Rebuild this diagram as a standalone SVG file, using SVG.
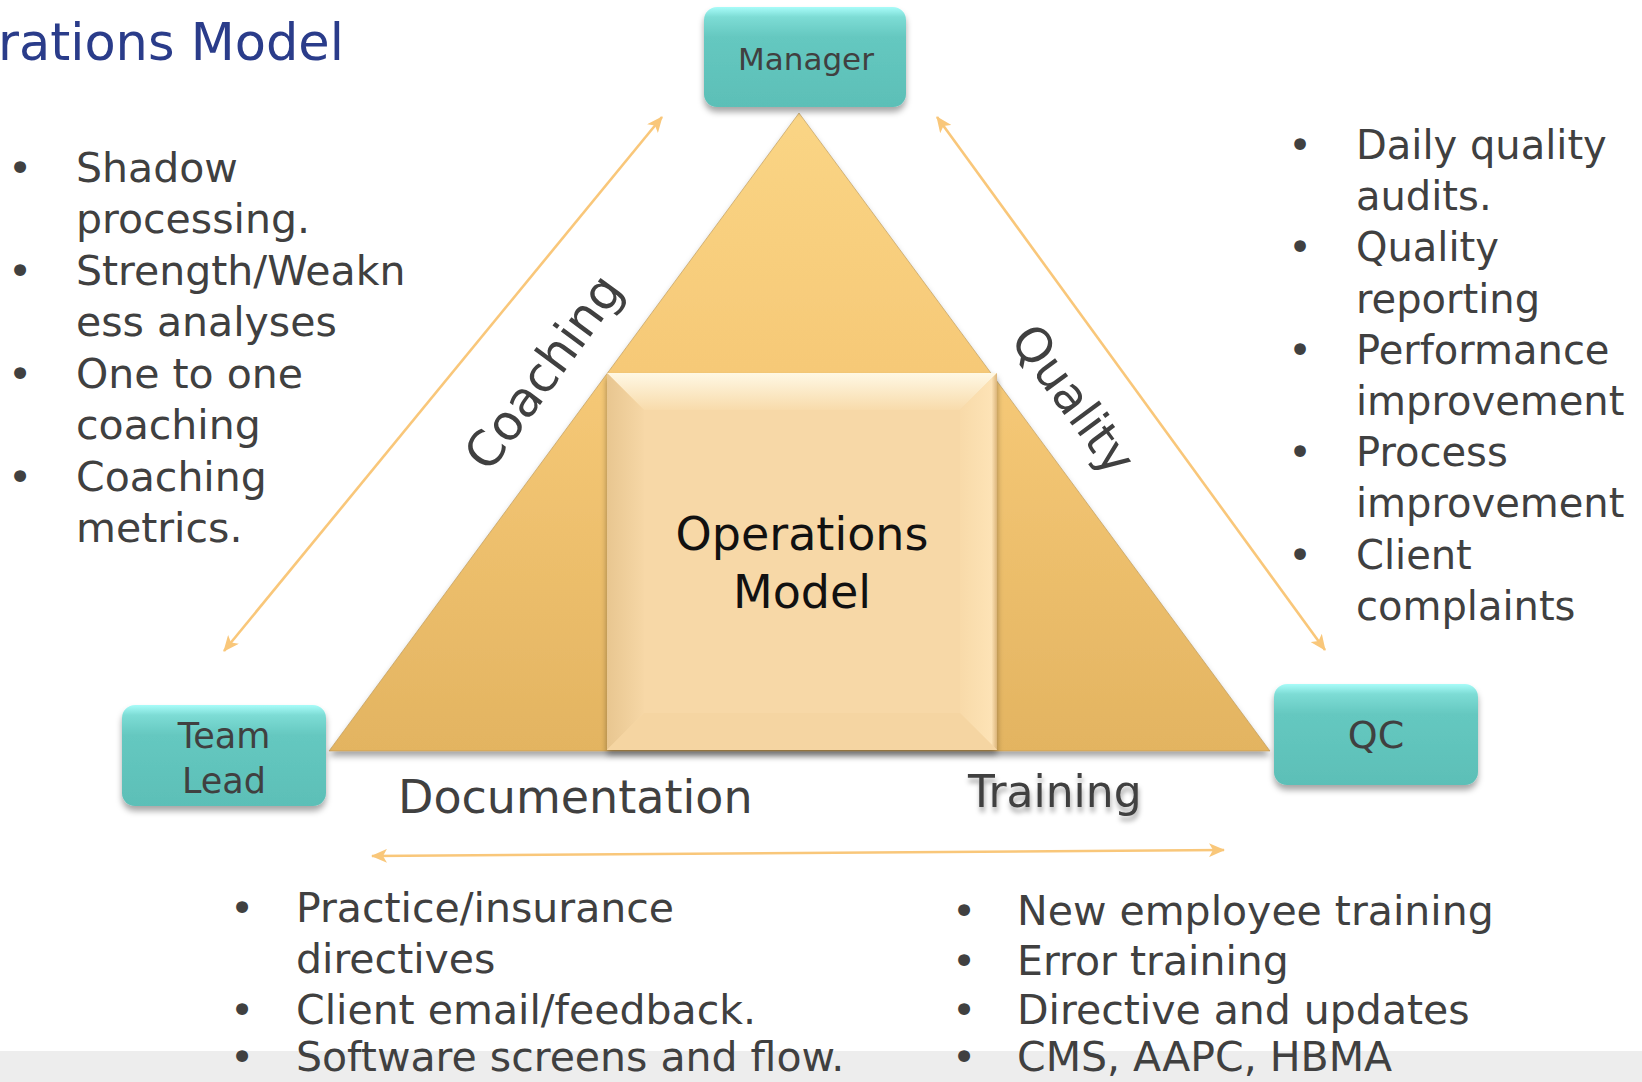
<svg xmlns="http://www.w3.org/2000/svg" width="1642" height="1082" viewBox="0 0 1642 1082">
<style>
.t{font-family:"DejaVu Sans","Liberation Sans",sans-serif;fill:#404040}
.b{font-size:41px}
.conn{stroke:#f9c77a;stroke-width:2.6;fill:none;marker-start:url(#ah);marker-end:url(#ah)}
</style>
<defs>
<marker id="ah" viewBox="0 0 16 14" refX="15" refY="7" markerWidth="16" markerHeight="14" markerUnits="userSpaceOnUse" orient="auto-start-reverse">
<path d="M0,0 L16,7 L0,14 L4,7 z" fill="#f9c77a"/>
</marker>
<linearGradient id="teal" x1="0" y1="0" x2="0" y2="1">
<stop offset="0" stop-color="#a8fcf9"/>
<stop offset="0.1" stop-color="#7ddcd5"/>
<stop offset="0.3" stop-color="#65c8c0"/>
<stop offset="1" stop-color="#5cbfb7"/>
</linearGradient>
<linearGradient id="tri" x1="0" y1="113" x2="0" y2="751" gradientUnits="userSpaceOnUse">
<stop offset="0" stop-color="#fad585"/>
<stop offset="0.4" stop-color="#f6c977"/>
<stop offset="1" stop-color="#e3b461"/>
</linearGradient>
<linearGradient id="sqTop" x1="0" y1="0" x2="0" y2="1">
<stop offset="0" stop-color="#fff8e4"/>
<stop offset="1" stop-color="#f8dbab"/>
</linearGradient>
<linearGradient id="sqLeft" x1="0" y1="0" x2="1" y2="0">
<stop offset="0" stop-color="#e8c690"/>
<stop offset="1" stop-color="#f6d7a6"/>
</linearGradient>
<linearGradient id="sqRight" x1="0" y1="0" x2="1" y2="0">
<stop offset="0" stop-color="#f8daa9"/>
<stop offset="0.85" stop-color="#fde3b6"/>
<stop offset="1" stop-color="#dcb57a"/>
</linearGradient>
<filter id="sh" x="-20%" y="-20%" width="140%" height="150%">
<feDropShadow dx="0" dy="5" stdDeviation="3" flood-color="#000" flood-opacity="0.35"/>
</filter>
<filter id="tsh" x="-10%" y="-20%" width="120%" height="160%">
<feDropShadow dx="1" dy="5" stdDeviation="2.5" flood-color="#000" flood-opacity="0.35"/>
</filter>
</defs>
<rect width="1642" height="1082" fill="#ffffff"/>
<rect x="0" y="1051" width="1642" height="31" fill="#ededed"/>

<text x="-2" y="60" font-family="'DejaVu Sans','Liberation Sans',sans-serif" font-size="51" fill="#2a3c8a">rations Model</text>

<g id="pyramid">
<polygon points="799,113 1270,751 329,751" fill="url(#tri)" stroke="#b89555" stroke-opacity="0.6" stroke-width="1" filter="url(#sh)"/>
</g>

<g id="operations-model">
<g filter="url(#sh)">
<rect x="607" y="373" width="390" height="377" fill="#f7d8a7"/>
</g>
<polygon points="607,373 997,373 960,410 644,410" fill="url(#sqTop)"/>
<polygon points="607,373 644,410 644,713 607,750" fill="url(#sqLeft)"/>
<polygon points="997,373 997,750 960,713 960,410" fill="url(#sqRight)"/>
<polygon points="607,750 644,713 960,713 997,750" fill="#f5d5a2"/>
<rect x="644" y="410" width="316" height="303" fill="#f7d8a7"/>
<text x="802" y="550" text-anchor="middle" font-family="'DejaVu Sans','Liberation Sans',sans-serif" font-size="46" fill="#111">Operations</text>
<text x="802" y="608" text-anchor="middle" font-family="'DejaVu Sans','Liberation Sans',sans-serif" font-size="46" fill="#111">Model</text>
</g>

<g id="connectors">
<line class="conn" x1="224" y1="651" x2="662" y2="117"/>
<line class="conn" x1="937" y1="117" x2="1325" y2="650"/>
<line class="conn" x1="372" y1="856" x2="1224" y2="850"/>
</g>

<g id="manager">
<rect x="704" y="7" width="202" height="100" rx="13" fill="url(#teal)" filter="url(#sh)"/>
<text class="t" x="806" y="70" text-anchor="middle" font-size="31">Manager</text>
</g>
<g id="team-lead">
<rect x="122" y="705" width="204" height="101" rx="13" fill="url(#teal)" filter="url(#sh)"/>
<text class="t" x="224" y="748" text-anchor="middle" font-size="35">Team</text>
<text class="t" x="224" y="793" text-anchor="middle" font-size="35">Lead</text>
</g>
<g id="qc">
<rect x="1274" y="684" width="204" height="101" rx="13" fill="url(#teal)" filter="url(#sh)"/>
<text class="t" x="1376" y="748" text-anchor="middle" font-size="38">QC</text>
</g>

<g id="edge-labels">
<text class="t" x="557" y="382" text-anchor="middle" font-size="49" transform="rotate(-53.6 557 382)">Coaching</text>
<text class="t" x="1060" y="409" text-anchor="middle" font-size="48" transform="rotate(53.6 1060 409)">Quality</text>
<text class="t" x="398" y="813" font-size="46">Documentation</text>
<text class="t" x="968" y="807" font-size="44" filter="url(#tsh)">Training</text>
</g>

<g id="coaching-list" class="t b">
<text x="20" y="182" text-anchor="middle">•</text>
<text x="76" y="182">Shadow</text>
<text x="76" y="233">processing.</text>
<text x="20" y="285" text-anchor="middle">•</text>
<text x="76" y="285">Strength/Weakn</text>
<text x="76" y="336">ess analyses</text>
<text x="20" y="388" text-anchor="middle">•</text>
<text x="76" y="388">One to one</text>
<text x="76" y="439">coaching</text>
<text x="20" y="491" text-anchor="middle">•</text>
<text x="76" y="491">Coaching</text>
<text x="76" y="542">metrics.</text>
</g>

<g id="quality-list" class="t" font-size="40">
<text x="1300" y="159" text-anchor="middle">•</text>
<text x="1356" y="159">Daily quality</text>
<text x="1356" y="210">audits.</text>
<text x="1300" y="261" text-anchor="middle">•</text>
<text x="1356" y="261">Quality</text>
<text x="1356" y="313">reporting</text>
<text x="1300" y="364" text-anchor="middle">•</text>
<text x="1356" y="364">Performance</text>
<text x="1356" y="415">improvement</text>
<text x="1300" y="466" text-anchor="middle">•</text>
<text x="1356" y="466">Process</text>
<text x="1356" y="517">improvement</text>
<text x="1300" y="569" text-anchor="middle">•</text>
<text x="1356" y="569">Client</text>
<text x="1356" y="620">complaints</text>
</g>

<g id="documentation-list" class="t b">
<text x="242" y="922" text-anchor="middle">•</text>
<text x="296" y="922">Practice/insurance</text>
<text x="296" y="973">directives</text>
<text x="242" y="1024" text-anchor="middle">•</text>
<text x="296" y="1024">Client email/feedback.</text>
<text x="242" y="1071" text-anchor="middle">•</text>
<text x="296" y="1071">Software screens and flow.</text>
</g>

<g id="training-list" class="t b">
<text x="964" y="925" text-anchor="middle">•</text>
<text x="1017" y="925">New employee training</text>
<text x="964" y="975" text-anchor="middle">•</text>
<text x="1017" y="975">Error training</text>
<text x="964" y="1024" text-anchor="middle">•</text>
<text x="1017" y="1024">Directive and updates</text>
<text x="964" y="1071" text-anchor="middle">•</text>
<text x="1017" y="1071">CMS, AAPC, HBMA</text>
</g>
</svg>
